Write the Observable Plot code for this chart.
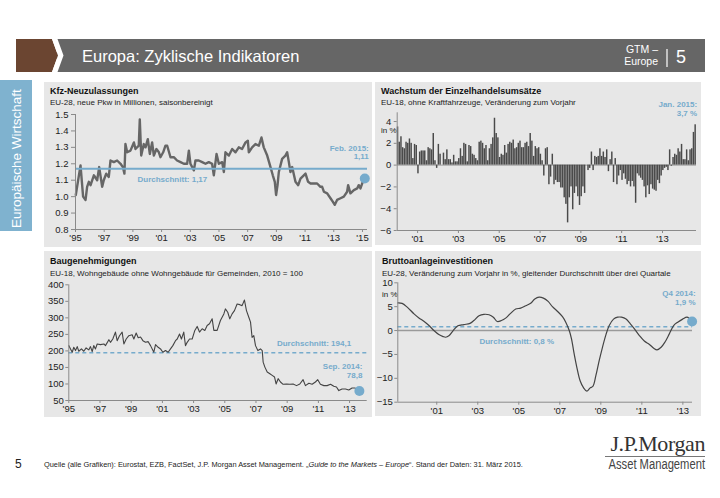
<!DOCTYPE html>
<html><head><meta charset="utf-8">
<script src="https://cdn.jsdelivr.net/npm/d3@7"></script>
<script src="https://cdn.jsdelivr.net/npm/@observablehq/plot@0.6"></script>
<style>
body{margin:0;background:#fff;font-family:"Liberation Sans",Arial,sans-serif;}
#page{position:relative;width:720px;height:498px;overflow:hidden;background:#fff;}
.abs{position:absolute;white-space:nowrap;}
.panel{position:absolute;background:#e7e7e7;}
.ptitle{position:absolute;font-weight:bold;font-size:9px;line-height:12px;color:#111;white-space:nowrap;}
.psub{position:absolute;font-size:8px;line-height:10px;color:#222;white-space:nowrap;}
.chart{position:absolute;}
</style></head><body>
<div id="page">
  <svg class="abs" style="left:0;top:0" width="720" height="80">
    <rect x="57" y="39" width="648" height="33" fill="#666666"/>
    <polygon points="16,39 52,39 58,55.5 52,72 16,72" fill="#6b4531"/>
    <polygon points="52,39 57.5,39 63.5,55.5 57.5,72 52,72 58,55.5" fill="#ffffff"/>
    <line x1="667" y1="49" x2="667" y2="67" stroke="#fff" stroke-width="1.2"/>
  </svg>
  <div class="abs" style="left:82px;top:46px;font-size:16.5px;line-height:20px;color:#fff;">Europa: Zyklische Indikatoren</div>
  <div class="abs" style="left:610px;top:43px;width:48px;text-align:right;font-size:10.5px;line-height:12px;color:#fff;">GTM –<br>Europe</div>
  <div class="abs" style="left:676px;top:46px;font-size:18px;line-height:22px;color:#fff;">5</div>

  <div class="abs" style="left:0;top:80px;width:32px;height:151px;background:#7fb2cf;overflow:hidden;">
    <div class="abs" style="left:9px;top:148px;transform:rotate(-90deg);transform-origin:0 0;font-size:13.5px;line-height:15px;color:#fff;">Europäische Wirtschaft</div>
  </div>

  <div class="panel" style="left:44px;top:82px;width:328px;height:165px;"></div>
  <div class="panel" style="left:375px;top:82px;width:326px;height:163px;"></div>
  <div class="panel" style="left:44px;top:251px;width:328px;height:166px;"></div>
  <div class="panel" style="left:375px;top:251px;width:326px;height:165px;"></div>

  <div class="ptitle" style="left:50px;top:85px;">Kfz-Neuzulassungen</div>
  <div class="psub" style="left:50px;top:97.5px;">EU-28, neue Pkw in Millionen, saisonbereinigt</div>
  <div class="ptitle" style="left:381px;top:85px;">Wachstum der Einzelhandelsumsätze</div>
  <div class="psub" style="left:381px;top:97.5px;">EU-18, ohne Kraftfahrzeuge, Veränderung zum Vorjahr</div>
  <div class="ptitle" style="left:50px;top:255px;">Baugenehmigungen</div>
  <div class="psub" style="left:50px;top:268.5px;">EU-18, Wohngebäude ohne Wohngebäude für Gemeinden, 2010 = 100</div>
  <div class="ptitle" style="left:382px;top:255px;">Bruttoanlageinvestitionen</div>
  <div class="psub" style="left:382px;top:268.5px;">EU-28, Veränderung zum Vorjahr in %, gleitender Durchschnitt über drei Quartale</div>
  <div class="abs" style="left:381px;top:126px;font-size:8px;color:#222;">in %</div>
  <div class="abs" style="left:382px;top:289.5px;font-size:8px;color:#222;">in %</div>

  <div id="c1" class="chart" style="left:44px;top:108px;"></div>
  <div id="c2" class="chart" style="left:375px;top:108px;"></div>
  <div id="c3" class="chart" style="left:44px;top:278px;"></div>
  <div id="c4" class="chart" style="left:375px;top:278px;"></div>

  <div class="abs" style="left:15px;top:457px;font-size:12px;line-height:14px;color:#222;">5</div>
  <div class="abs" style="left:44px;top:460px;font-size:7.4px;line-height:9px;color:#222;">Quelle (alle Grafiken): Eurostat, EZB, FactSet, J.P. Morgan Asset Management. „<i>Guide to the Markets – Europe</i>“. Stand der Daten: 31. März 2015.</div>
  <div class="abs" style="left:560px;top:432px;width:145px;text-align:right;font-family:'Liberation Serif','DejaVu Serif',serif;font-size:22px;line-height:24px;color:#333;letter-spacing:-0.4px;">J.P.Morgan</div>
  <div class="abs" style="left:605px;top:456px;width:100px;height:0;border-top:1px solid #777;"></div>
  <div class="abs" style="left:545px;top:457px;width:160px;text-align:right;font-size:14px;line-height:15px;color:#444;transform:scaleX(0.8);transform-origin:100% 50%;">Asset Management</div>
</div>
<script>
// ---------- data ----------
// Kfz-Neuzulassungen (Mio., saisonbereinigt)
const kfzYear = [1995.02,1995.35,1995.53,1995.70,1995.81,1995.93,1996.05,1996.28,1996.51,1996.65,1996.86,1996.97,1997.14,1997.32,1997.44,1997.67,1997.90,1998.14,1998.30,1998.41,1998.48,1998.60,1998.83,1999.07,1999.18,1999.41,1999.48,1999.58,1999.76,1999.88,2000.04,2000.18,2000.34,2000.46,2000.64,2000.81,2000.92,2001.11,2001.27,2001.39,2001.62,2001.85,2002.08,2002.32,2002.55,2002.78,2002.90,2003.01,2003.25,2003.36,2003.59,2003.83,2004.06,2004.29,2004.52,2004.64,2004.83,2004.99,2005.22,2005.34,2005.45,2005.69,2005.92,2006.15,2006.38,2006.61,2006.85,2007.01,2007.08,2007.31,2007.54,2007.78,2007.96,2008.12,2008.36,2008.59,2008.75,2008.89,2008.98,2009.08,2009.17,2009.40,2009.63,2009.75,2009.87,2009.98,2010.10,2010.33,2010.52,2010.68,2010.91,2011.03,2011.21,2011.38,2011.61,2011.84,2012.07,2012.19,2012.31,2012.54,2012.77,2012.93,2013.07,2013.23,2013.47,2013.70,2013.93,2014.00,2014.16,2014.40,2014.63,2014.74,2014.86,2015.02,2015.16];
const kfzValue = [1.01,1.19,1.00,0.98,1.06,1.09,1.07,1.13,1.10,1.18,1.06,1.10,1.14,1.12,1.22,1.21,1.22,1.20,1.18,1.14,1.32,1.27,1.28,1.33,1.29,1.31,1.47,1.25,1.32,1.30,1.35,1.26,1.33,1.25,1.29,1.27,1.24,1.27,1.31,1.31,1.24,1.24,1.22,1.21,1.20,1.20,1.28,1.20,1.16,1.22,1.22,1.21,1.20,1.21,1.20,1.13,1.26,1.20,1.21,1.15,1.27,1.25,1.29,1.27,1.30,1.29,1.33,1.34,1.27,1.30,1.32,1.31,1.36,1.30,1.25,1.18,1.13,1.09,1.01,1.07,1.15,1.23,1.25,1.27,1.21,1.15,1.18,1.09,1.07,1.11,1.13,1.14,1.09,1.08,1.08,1.08,1.06,1.06,1.03,1.02,0.99,0.97,0.95,0.98,0.99,1.00,1.03,1.07,1.02,1.04,1.05,1.07,1.05,1.09,1.11];
const kfzAvg = 1.17;
const kfzXTicks = [1995,1997,1999,2001,2003,2005,2007,2009,2011,2013,2015];
const kfzYTicks = [0.8,0.9,1.0,1.1,1.2,1.3,1.4,1.5];

// Einzelhandelsumsätze, monatlich ab Jan. 2000 (% ggü. Vorjahr)
const retailStart = 2000;
const retailValue = [3.5,2.1,2.6,1.6,1.5,2.1,2.0,2.4,2.0,0.6,1.9,1.8,
  -0.8,1.2,1.3,1.3,1.3,0.4,1.6,1.5,1.4,2.9,0.4,-0.3,1.9,
  1.0,0.0,1.1,0.5,1.4,0.5,0.5,0.2,0.9,0.3,0.3,0.6,1.5,0.8,2.0,1.9,0.3,1.8,1.7,1.0,0.9,0.6,0.4,2.1,2.2,2.0,1.5,1.8,0.4,1.5,1.9,2.5,
  4.3,2.9,2.5,0.7,1.0,0.9,1.8,1.1,1.9,2.1,2.0,2.3,1.5,1.6,2.0,2.2,1.6,1.6,2.0,2.1,1.7,
  2.9,2.2,0.8,1.7,1.5,1.6,1.0,0.4,-1.0,
  1.5,1.6,-1.8,-1.1,1.0,-1.8,-1.4,-1.6,-1.6,-2.1,-2.1,-3.0,-3.6,-5.3,
  -3.0,-2.0,-4.1,-2.6,-2.0,-2.9,-3.7,-2.9,-2.0,-2.6,0.0,-0.5,-0.3,1.2,
  -0.5,0.8,0.7,0.8,1.5,0.8,1.2,0.7,1.4,-0.6,0.5,1.2,-1.6,0.6,-1.8,-1.0,-0.5,-1.4,-0.8,-1.3,-1.8,-1.5,-2.0,-1.5,-2.0,-3.5,
  -0.8,-1.0,-1.2,-1.4,-2.0,-3.0,-1.9,-2.7,-1.8,-2.2,-2.3,-2.4,-1.4,-1.7,-1.0,-0.5,-0.3,-0.2,-0.5,1.4,
  -0.1,0.7,1.0,0.9,1.5,1.2,1.9,0.5,0.5,1.4,0.4,1.4,1.5,3.0,3.7];
const retailXTicks = [2001,2003,2005,2007,2009,2011,2013];
const retailYTicks = [-6,-4,-2,0,2,4];

// Baugenehmigungen (2010 = 100)
const buildYear = [1995.00,1995.11,1995.22,1995.32,1995.43,1995.54,1995.64,1995.81,1995.96,1996.11,1996.28,1996.39,1996.50,1996.60,1996.71,1996.82,1997.03,1997.25,1997.35,1997.57,1997.67,1997.82,1997.99,1998.10,1998.25,1998.42,1998.53,1998.68,1998.85,1999.06,1999.17,1999.32,1999.45,1999.60,1999.75,1999.92,2000.09,2000.24,2000.45,2000.56,2000.73,2000.88,2001.03,2001.20,2001.37,2001.52,2001.67,2001.84,2001.95,2002.10,2002.22,2002.37,2002.48,2002.59,2002.74,2002.91,2003.08,2003.23,2003.38,2003.55,2003.72,2003.87,2004.02,2004.19,2004.30,2004.51,2004.72,2004.94,2005.04,2005.19,2005.32,2005.47,2005.62,2005.79,2005.96,2006.11,2006.26,2006.39,2006.54,2006.65,2006.75,2006.86,2006.97,2007.12,2007.29,2007.40,2007.46,2007.57,2007.72,2007.89,2008.04,2008.19,2008.29,2008.42,2008.57,2008.74,2008.96,2009.17,2009.38,2009.60,2009.81,2010.02,2010.17,2010.39,2010.60,2010.81,2010.96,2011.13,2011.35,2011.56,2011.78,2011.99,2012.16,2012.31,2012.52,2012.74,2012.95,2013.16,2013.34,2013.49,2013.63];
const buildValue = [216,206,196,211,201,213,199,206,199,209,203,213,198,216,206,221,219,221,216,234,226,236,257,231,246,257,221,236,246,249,236,254,240,242,231,226,228,216,196,219,211,206,196,201,196,206,216,231,236,251,236,257,216,226,236,236,262,274,257,267,262,277,282,297,262,262,292,312,327,317,297,312,322,342,340,337,354,322,302,287,241,246,216,201,206,201,166,151,136,131,126,121,100,116,106,99,100,99,100,95,100,113,95,102,99,106,113,99,95,95,99,93,91,80,85,85,82,88,88,82,78.8];
const buildAvg = 194.1;
const buildXTicks = [1995,1997,1999,2001,2003,2005,2007,2009,2011,2013];
const buildYTicks = [50,100,150,200,250,300,350,400];

// Bruttoanlageinvestitionen (% ggü. Vorjahr, gleitender 3-Quartals-Durchschnitt)
const investYear = [1999.10,1999.31,1999.56,1999.89,2000.13,2000.37,2000.62,2000.86,2001.10,2001.31,2001.43,2001.59,2001.80,2002.03,2002.32,2002.62,2002.81,2003.06,2003.30,2003.55,2003.76,2003.95,2004.15,2004.36,2004.60,2004.85,2005.09,2005.34,2005.58,2005.78,2005.99,2006.20,2006.43,2006.64,2006.89,2007.13,2007.29,2007.46,2007.57,2007.70,2007.83,2007.99,2008.16,2008.32,2008.48,2008.61,2008.76,2008.92,2009.08,2009.25,2009.41,2009.62,2009.82,2010.01,2010.23,2010.44,2010.64,2010.88,2011.12,2011.37,2011.58,2011.74,2011.94,2012.13,2012.34,2012.55,2012.75,2012.99,2013.20,2013.32,2013.45];
const investValue = [5.8,5.7,4.9,3.5,2.65,1.95,1.05,0,-0.84,-1.26,-1.4,-1.1,0,1.0,1.26,1.5,2.1,3.1,3.4,3.3,2.8,1.9,2.1,2.6,3.6,4.5,4.7,5.2,5.7,6.6,7.0,6.8,6.1,5.0,4.0,2.9,1.75,0,-1.75,-4.9,-7.7,-10.5,-12.0,-12.7,-12.0,-11.7,-9.4,-6.3,-3.5,-0.84,1.05,2.4,2.8,2.8,2.4,1.4,0.35,-1.05,-2.2,-2.9,-3.7,-4.05,-3.5,-2.4,-0.7,1.05,1.75,2.4,2.8,2.5,1.9];
const investAvg = 0.8;
const investXTicks = [2001,2003,2005,2007,2009,2011,2013];
const investYTicks = [-15,-10,-5,0,5,10];

// ---------- helpers ----------
const blue = "#76abcc";
const axisGray = "#8a8a8a";
const fmtDe = (v, d) => v.toFixed(d).replace(".", ",");
const yy = d => "'" + String(d).slice(2);
const baseStyle = {background: "transparent", fontFamily: "Liberation Sans, Arial, sans-serif", fontSize: "9.5px", color: "#222", overflow: "visible"};
const lab = {fill: blue, fontWeight: "bold", fontSize: 8, fontFamily: "Liberation Sans, Arial, sans-serif"};
const axOpts = {stroke: axisGray, fill: "#222", label: null};

// ---------- chart 1 ----------
const kfz = kfzYear.map((x, i) => ({x, y: kfzValue[i]}));
const kfzLast = kfz[kfz.length - 1];
const c1 = Plot.plot({
  width: 328, height: 140, marginTop: 6, marginBottom: 19, marginLeft: 31, marginRight: 5,
  style: baseStyle,
  x: {domain: [1995, 2015.35]},
  y: {domain: [0.8, 1.5]},
  marks: [
    Plot.line(kfz, {x: "x", y: "y", stroke: "#666", strokeWidth: 2.4, strokeLinejoin: "round"}),
    Plot.ruleY([kfzAvg], {stroke: blue, strokeWidth: 2}),
    Plot.ruleX([1995], {stroke: axisGray}),
    Plot.ruleY([0.8], {stroke: axisGray}),
    Plot.axisY({...axOpts, ticks: kfzYTicks, tickFormat: d => d.toFixed(1), tickSize: 4, tickPadding: 3}),
    Plot.axisX({...axOpts, ticks: kfzXTicks, tickFormat: yy, tickSize: 3, tickPadding: 2}),
    Plot.dot([kfzLast], {x: "x", y: "y", r: 5, fill: blue}),
    Plot.text([kfzAvg], {x: () => 2001.75, y: d => d, text: d => "Durchschnitt: " + fmtDe(d, 2), dy: 11, ...lab}),
    Plot.text([kfzLast], {x: "x", y: "y", text: d => "Feb. 2015:\n" + fmtDe(d.y, 2), textAnchor: "end", dx: 4, dy: -26, lineHeight: 1.0, ...lab})
  ]
});
document.getElementById("c1").appendChild(c1);

// ---------- chart 2 ----------
const retail = retailValue.map((v, i) => ({x1: retailStart + i / 12, x2: retailStart + (i + 1) / 12, y: v}));
const retailLast = retail[retail.length - 1];
const c2 = Plot.plot({
  width: 326, height: 139, marginTop: 4.3, marginBottom: 17, marginLeft: 21.7, marginRight: 5,
  style: baseStyle,
  x: {domain: [retailStart, retailStart + retailValue.length / 12]},
  y: {domain: [-6, 4.8]},
  marks: [
    Plot.ruleY([0], {stroke: "#9a9a9a"}),
    Plot.rectY(retail, {x1: "x1", x2: "x2", y: "y", fill: "#4a4a4a", insetLeft: 0.12, insetRight: 0.12}),
    Plot.ruleX([retailStart], {stroke: axisGray}),
    Plot.ruleY([-6], {stroke: axisGray}),
    Plot.axisY({...axOpts, ticks: retailYTicks, tickSize: 3, tickPadding: 3}),
    Plot.axisX({...axOpts, ticks: retailXTicks, tickFormat: yy, tickSize: 3, tickPadding: 2}),
    Plot.text([retailLast], {x: d => (d.x1 + d.x2) / 2, y: "y", text: d => "Jan. 2015:\n" + fmtDe(d.y, 1) + " %", textAnchor: "end", dx: 1.5, dy: -16, lineHeight: 1.1, ...lab})
  ]
});
document.getElementById("c2").appendChild(c2);

// ---------- chart 3 ----------
const build = buildYear.map((x, i) => ({x, y: buildValue[i]}));
const buildLast = build[build.length - 1];
const c3 = Plot.plot({
  width: 328, height: 139, marginTop: 6.3, marginBottom: 17, marginLeft: 24.3, marginRight: 5.3,
  style: baseStyle,
  x: {domain: [1995, 2014.13]},
  y: {domain: [50, 400]},
  marks: [
    Plot.ruleY([buildAvg], {stroke: blue, strokeWidth: 1.5, strokeDasharray: "4,3"}),
    Plot.line(build, {x: "x", y: "y", stroke: "#444", strokeWidth: 1.1}),
    Plot.ruleX([1995], {stroke: axisGray}),
    Plot.ruleY([50], {stroke: axisGray}),
    Plot.axisY({...axOpts, ticks: buildYTicks, tickSize: 3, tickPadding: 2}),
    Plot.axisX({...axOpts, ticks: buildXTicks, tickFormat: yy, tickSize: 3, tickPadding: 2}),
    Plot.dot([buildLast], {x: "x", y: "y", r: 5, fill: blue}),
    Plot.text([buildAvg], {x: () => 2013.1, y: d => d, text: d => "Durchschnitt: " + fmtDe(d, 1), textAnchor: "end", dy: -9, ...lab}),
    Plot.text([buildLast], {x: "x", y: "y", text: d => "Sep. 2014:\n" + fmtDe(d.y, 1), textAnchor: "end", dx: 3, dy: -20, lineHeight: 1.1, ...lab})
  ]
});
document.getElementById("c3").appendChild(c3);

// ---------- chart 4 ----------
const invest = investYear.map((x, i) => ({x, y: investValue[i]}));
const investLast = invest[invest.length - 1];
const c4 = Plot.plot({
  width: 326, height: 139, marginTop: 4.3, marginBottom: 15.3, marginLeft: 22.3, marginRight: 9,
  style: baseStyle,
  x: {domain: [1999.1, 2013.47]},
  y: {domain: [-15, 10]},
  marks: [
    Plot.ruleY([0], {stroke: "#9a9a9a", strokeWidth: 1.6}),
    Plot.ruleY([investAvg], {stroke: blue, strokeWidth: 1.5, strokeDasharray: "4,3"}),
    Plot.line(invest, {x: "x", y: "y", curve: "catmull-rom", stroke: "#444", strokeWidth: 1.2}),
    Plot.ruleX([1999.1], {stroke: axisGray}),
    Plot.ruleY([-15], {stroke: axisGray}),
    Plot.axisY({...axOpts, ticks: investYTicks, tickSize: 3, tickPadding: 2}),
    Plot.axisX({...axOpts, ticks: investXTicks, tickFormat: yy, tickSize: 3, tickPadding: 2}),
    Plot.dot([investLast], {x: "x", y: "y", r: 5, fill: blue}),
    Plot.text([investAvg], {x: () => 2004.9, y: d => d, text: d => "Durchschnitt: " + fmtDe(d, 1) + " %", dy: 14.5, ...lab}),
    Plot.text([investLast], {x: "x", y: "y", text: d => "Q4 2014:\n" + fmtDe(d.y, 1) + " %", textAnchor: "end", dx: 3.5, dy: -24, lineHeight: 1.1, ...lab})
  ]
});
document.getElementById("c4").appendChild(c4);
</script>
</body></html>
